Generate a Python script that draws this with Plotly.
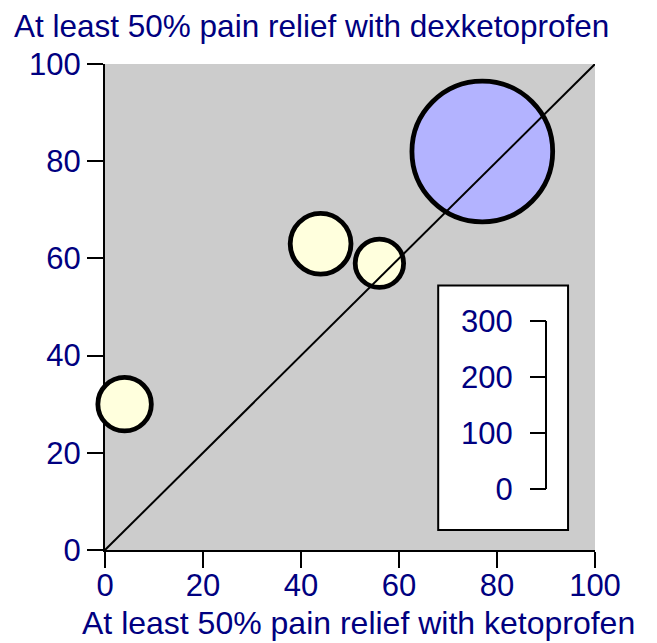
import plotly.graph_objects as go

# Data
ketoprofen = [4, 44, 56, 77]          # x: % with >=50% relief, ketoprofen
dexketoprofen = [30, 63, 59, 82]      # y: % with >=50% relief, dexketoprofen
trial_size = [95, 108, 86, 250]       # bubble size (scale 0-300)
fill_colors = ["#FFFFDD", "#FFFFDD", "#FFFFDD", "#B3B3FF"]
axis_ticks = [0, 20, 40, 60, 80, 100]
size_scale_ticks = [0, 100, 200, 300]
diag = [0, 100]

NAVY = "#000080"
FONT = "Liberation Sans, Arial, Helvetica, sans-serif"

# page has an 8px body margin, so the figure is a bit smaller than the window
W, H = 649, 635
L, R, T, B = 97, 62, 56, 93
plot_w = W - L - R   # 490
plot_h = H - T - B   # 486
px_per_size = 0.563  # diameter pixels per size unit (from legend scale)

# reference positions in window pixels, converted to plot-area fractions
def fx(px):
    return (px - 105) / plot_w

def fy(py):
    return (550 - py) / plot_h

fig = go.Figure()

fig.add_trace(go.Scatter(
    x=ketoprofen, y=dexketoprofen, mode="markers",
    marker=dict(size=trial_size, sizemode="diameter", sizeref=1 / px_per_size,
                color=fill_colors, opacity=1,
                line=dict(color="black", width=4.8)),
    cliponaxis=False, showlegend=False, hoverinfo="x+y"))

fig.add_trace(go.Scatter(
    x=diag, y=diag, mode="lines", line=dict(color="black", width=2),
    showlegend=False, hoverinfo="skip"))

# invisible trace to carry the size-scale axis
fig.add_trace(go.Scatter(
    x=[50], y=[0], yaxis="y2", mode="markers", marker=dict(opacity=0),
    showlegend=False, hoverinfo="skip"))

# size-scale axis: 0 at pixel 489, 300 at pixel 321 (plot area 64..550)
units_per_px = 300 / (489 - 321)
y2_lo = -(550 - 489) * units_per_px
y2_hi = 300 + (321 - 64) * units_per_px

axis_common = dict(
    range=[0, 100], tickvals=axis_ticks, ticks="outside", ticklen=16,
    tickwidth=2, tickcolor="black", showline=True, linecolor="black",
    linewidth=2, showgrid=False, zeroline=False, layer="below traces",
    tickfont=dict(family=FONT, size=31, color=NAVY))

fig.update_layout(
    width=W, height=H, autosize=False,
    margin=dict(l=L, r=R, t=T, b=B, pad=0),
    paper_bgcolor="white", plot_bgcolor="#CCCCCC",
    xaxis=dict(**axis_common, ticklabelstandoff=-9),
    yaxis=dict(**axis_common),
    yaxis2=dict(overlaying="y", anchor="free", position=fx(546),
                side="left", range=[y2_lo, y2_hi], tickvals=size_scale_ticks,
                ticks="outside", ticklen=16, tickwidth=2, tickcolor="black",
                ticklabelstandoff=11,
                showline=False, showgrid=False, zeroline=False,
                tickfont=dict(family=FONT, size=31, color=NAVY)),
    shapes=[
        dict(type="rect", xref="x", yref="y", x0=68, x1=94.5, y0=4.1, y1=54.4,
             fillcolor="white", line=dict(color="black", width=2), layer="below"),
        dict(type="line", xref="paper", yref="y2", x0=fx(546), x1=fx(546),
             y0=size_scale_ticks[0], y1=size_scale_ticks[-1],
             line=dict(color="black", width=2), layer="above"),
    ],
    annotations=[
        dict(text="At least 50% pain relief with dexketoprofen", xref="paper",
             yref="paper", x=fx(12), y=fy(26),
             xanchor="left", yanchor="middle", showarrow=False,
             font=dict(family=FONT, size=31.5, color=NAVY)),
        dict(text="At least 50% pain relief with ketoprofen", xref="paper",
             yref="paper", x=fx(358.5), y=fy(623),
             xanchor="center", yanchor="middle", showarrow=False,
             font=dict(family=FONT, size=32, color=NAVY)),
    ],
)

fig.write_html("out.html")
